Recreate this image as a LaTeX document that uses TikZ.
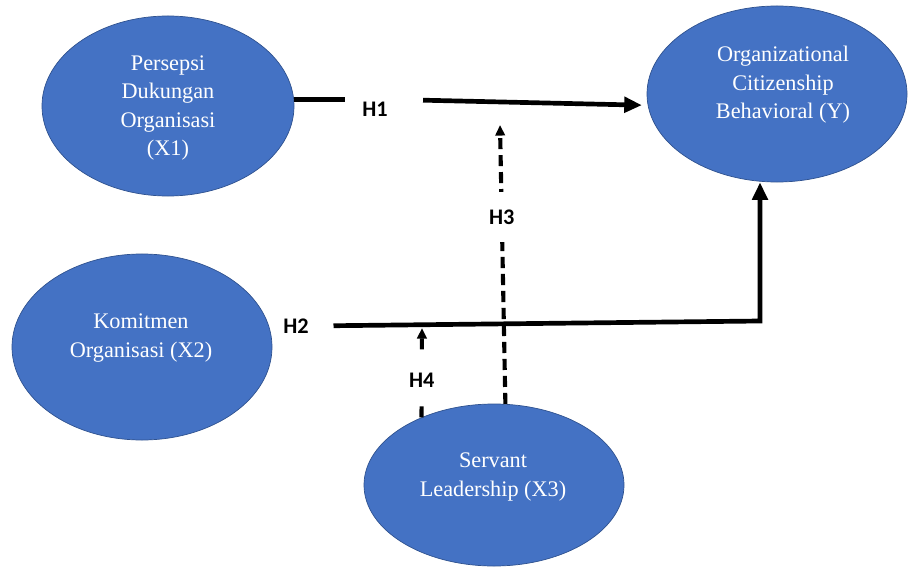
\documentclass[tikz,border=0pt]{standalone}
\usepackage{fontspec}
\setmainfont{Liberation Serif}
\newfontfamily\hypfont{Carlito}
\usetikzlibrary{arrows.meta,shapes.geometric}
\definecolor{VarBlue}{HTML}{4472C4}
\definecolor{VarEdge}{HTML}{2F528F}

\begin{document}
\begin{tikzpicture}[x=0.03cm,y=-0.03cm,
  var/.style={ellipse,draw=VarEdge,line width=0.6pt,fill=VarBlue,inner sep=0pt},
  vtxt/.style={align=center,text=white,inner sep=0pt,
    font=\fontsize{19}{24.3}\selectfont},
  hyp/.style={font=\hypfont\bfseries\fontsize{19}{22}\selectfont,inner sep=0pt},
  gap/.style={hyp,fill=white,inner xsep=2pt,inner ysep=15pt},
  plain/.style={line width=4pt},
  main/.style={line width=4pt,-{Triangle[length=15pt,width=13pt]}},
  mod/.style={line width=3.5pt,dash pattern=on 9.5pt off 5pt,
    -{Triangle[length=9pt,width=8pt]}}]
  \useasboundingbox (0,0) rectangle (909,567);
  % variabel
  \node[var,minimum width=7.56cm,minimum height=5.4cm] (X1) at (168,106) {};
  \node[var,minimum width=7.8cm,minimum height=5.28cm] (Y) at (777,94) {};
  \node[var,minimum width=7.8cm,minimum height=5.58cm] (X2) at (142,347) {};
  \node[var,minimum width=7.8cm,minimum height=4.86cm] (X3) at (494,485) {};
  \node[vtxt] (X1t) at (168,108) {Persepsi\\Dukungan\\Organisasi\\(X1)};
  \node[vtxt] (Yt)  at (783,85)  {Organizational\\Citizenship\\Behavioral (Y)};
  \node[vtxt] (X2t) at (141,338) {Komitmen\\Organisasi (X2)};
  \node[vtxt] (X3t) at (493,477) {Servant\\Leadership (X3)};
  % hipotesis
  \node[hyp] (H1) at (375,109) {H1};
  \node[hyp] (H2) at (296,326) {H2};
  \coordinate (bend)  at (760,321);
  \coordinate (h3tip) at (500,125);
  \coordinate (h4tip) at (422,328);
  \draw[plain,shorten >=15pt] (X1.3) -- (X1.3 -| H1.west);
  \draw[main,shorten <=30pt,shorten >=5pt] (H1.east |- X1.3) -- (Y.185);
  \draw[main,shorten <=21pt] (H2.east) -- (bend) -- (bend |- Y.south);
  % moderasi
  \draw[mod] (X3.82) -- node[gap,pos=0.67] (H3) {H3} (h3tip);
  \draw[mod] (X3.137) -- node[gap,pos=0.42] (H4) {H4} (h4tip);
\end{tikzpicture}
\end{document}
